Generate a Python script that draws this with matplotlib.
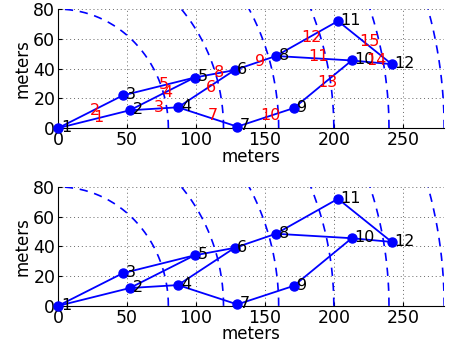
import numpy as np
import matplotlib.pyplot as plt

# node positions (meters)
node_x = [0, 52, 47, 87, 99, 128, 130, 158, 171, 213, 203, 242]
node_y = [0, 12, 22, 14, 34, 39, 1, 48.5, 13.5, 45.5, 72, 43]
node_ids = list(range(1, 13))

# edges (1-based node pairs), numbered 1..15 in this order
edges = [(1, 2), (1, 3), (2, 4), (2, 5), (3, 5), (4, 6), (4, 7), (5, 6),
         (6, 8), (7, 9), (8, 10), (8, 11), (9, 10), (10, 12), (11, 12)]

radii = [80, 120, 160, 200, 240, 280]

xticks = [0, 50, 100, 150, 200, 250]
yticks = [0, 20, 40, 60, 80]

blue = (0, 0, 1)


def draw_panel(ax, edge_labels):
    th = np.linspace(0, np.pi / 2, 200)
    for r in radii:
        ax.plot(r * np.cos(th), r * np.sin(th), '--', color=blue, lw=1.2,
                dashes=(5, 4))
    for a, b in edges:
        ax.plot([node_x[a - 1], node_x[b - 1]], [node_y[a - 1], node_y[b - 1]],
                '-', color=blue, lw=1.3)
    ax.plot(node_x, node_y, 'o', color=blue, ms=6.5, clip_on=False, zorder=5)
    for i, n in enumerate(node_ids):
        ax.text(node_x[i] + 2, node_y[i] + 0.5, str(n), fontsize=11.5,
                va='center', ha='left', zorder=6)
    if edge_labels:
        for k, (a, b) in enumerate(edges):
            mx = (node_x[a - 1] + node_x[b - 1]) / 2 + 3.5
            my = (node_y[a - 1] + node_y[b - 1]) / 2 + 1
            ax.text(mx, my, str(k + 1), color='red', fontsize=11.5,
                    ha='center', va='center', zorder=6)
    ax.set_xlim(0, 280)
    ax.set_ylim(0, 80)
    ax.set_xticks(xticks)
    ax.set_yticks(yticks)
    ax.grid(True, linestyle=(0, (1, 3)), color='#666666', lw=0.7)
    ax.tick_params(direction='in', length=3, labelsize=12.5, pad=2)
    for s in ['top', 'right']:
        ax.spines[s].set_visible(False)
    ax.set_xlabel('meters', fontsize=12, labelpad=-1)
    ax.set_ylabel('meters', fontsize=12, labelpad=1)


fig = plt.figure(figsize=(4.5, 3.52), dpi=100)
ax1 = fig.add_axes([0.129, 0.636, 0.858, 0.338])
ax2 = fig.add_axes([0.129, 0.131, 0.858, 0.338])
draw_panel(ax1, True)
draw_panel(ax2, False)

fig.savefig('out.png', dpi=100)
